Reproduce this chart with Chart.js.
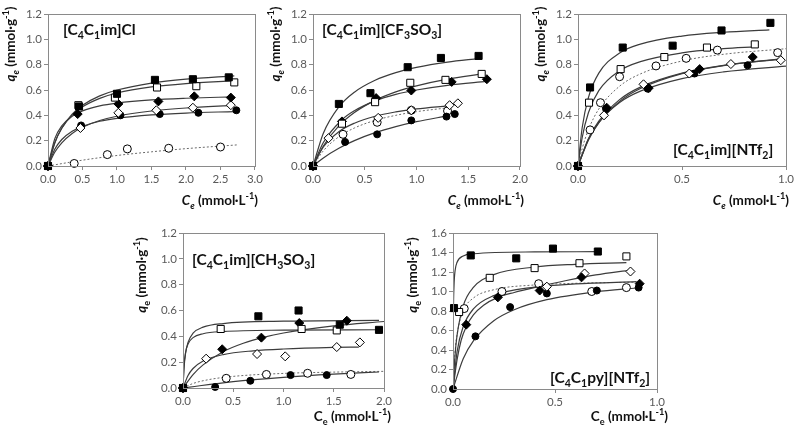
<!DOCTYPE html>
<html>
<head>
<meta charset="utf-8">
<script src="https://cdn.jsdelivr.net/npm/chart.js@4.4.1/dist/chart.umd.min.js"></script>
<style>
  body { margin: 0; background: #fff; width: 800px; height: 434px; position: relative; overflow: hidden; }
  canvas { position: absolute; }
</style>
</head>
<body>
<canvas id="p1" width="265" height="212" style="left:0;top:0"></canvas>
<canvas id="p2" width="265" height="212" style="left:265px;top:0"></canvas>
<canvas id="p3" width="270" height="212" style="left:530px;top:0"></canvas>
<canvas id="p4" width="265" height="219" style="left:130px;top:215px"></canvas>
<canvas id="p5" width="270" height="219" style="left:400px;top:215px"></canvas>
<script>
// ---- [C4C1im]Cl ----
const clSqFill = [[0,0],[0.45,0.47],[1.0,0.57],[1.55,0.68],[2.1,0.685],[2.62,0.70]];
const clSqOpen = [[0,0],[0.44,0.48],[0.97,0.54],[1.58,0.62],[2.15,0.63],[2.7,0.66]];
const clDiFill = [[0,0],[0.43,0.41],[1.02,0.49],[1.6,0.51],[2.12,0.55],[2.65,0.54]];
const clDiOpen = [[0,0],[0.47,0.30],[1.02,0.42],[1.57,0.44],[2.1,0.46],[2.65,0.48]];
const clCiFill = [[0,0],[0.48,0.32],[1.05,0.40],[1.62,0.41],[2.18,0.42],[2.73,0.44]];
const clCiOpen = [[0,0],[0.38,0.02],[0.86,0.09],[1.15,0.135],[1.75,0.14],[2.5,0.15]];
const clFitSqFill = [[0,0],[0.1,0.185],[0.2,0.30],[0.35,0.41],[0.5,0.48],[0.75,0.554],[1.0,0.60],[1.5,0.655],[2.0,0.686],[2.7,0.712]];
const clFitSqOpen = [[0,0],[0.1,0.186],[0.2,0.298],[0.35,0.402],[0.5,0.467],[0.75,0.534],[1.0,0.576],[1.5,0.624],[2.0,0.651],[2.7,0.674]];
const clFitDiFill = [[0,0],[0.1,0.218],[0.2,0.316],[0.35,0.393],[0.5,0.435],[0.75,0.475],[1.0,0.497],[1.5,0.522],[2.0,0.535],[2.7,0.546]];
const clFitDiOpen = [[0,0],[0.1,0.11],[0.2,0.183],[0.35,0.257],[0.5,0.306],[0.75,0.359],[1.0,0.393],[1.5,0.434],[2.0,0.458],[2.7,0.479]];
const clFitCiFill = [[0,0],[0.1,0.134],[0.2,0.209],[0.35,0.274],[0.5,0.313],[0.75,0.353],[1.0,0.376],[1.5,0.403],[2.0,0.418],[2.7,0.430]];
const clFitCiOpen = [[0,0],[0.5,0.046],[1.0,0.083],[1.5,0.112],[2.0,0.137],[2.75,0.167]];

// ---- [C4C1im][CF3SO3] ----
const cfSqFill = [[0,0],[0.25,0.49],[0.555,0.575],[0.915,0.78],[1.236,0.853],[1.6,0.869]];
const cfSqOpen = [[0,0],[0.28,0.334],[0.6,0.504],[0.94,0.657],[1.28,0.68],[1.63,0.727]];
const cfDiFill = [[0,0],[0.28,0.352],[0.61,0.536],[0.95,0.596],[1.34,0.664],[1.68,0.685]];
const cfDiOpen = [[0,0],[0.15,0.22],[0.63,0.38],[0.95,0.44],[1.32,0.48],[1.40,0.495]];
const cfCiFill = [[0,0],[0.31,0.19],[0.62,0.25],[0.95,0.36],[1.29,0.39],[1.37,0.41]];
const cfCiOpen = [[0,0],[0.29,0.25],[0.62,0.345],[0.95,0.44],[1.30,0.435]];
const cfFitSqFill = [[0,0],[0.1,0.259],[0.25,0.467],[0.4,0.583],[0.6,0.677],[0.8,0.737],[1.0,0.778],[1.3,0.82],[1.6,0.848]];
const cfFitSqOpen = [[0,0],[0.1,0.158],[0.25,0.317],[0.4,0.422],[0.6,0.518],[0.8,0.585],[1.0,0.633],[1.3,0.686],[1.63,0.727]];
const cfFitDiFill = [[0,0],[0.1,0.185],[0.28,0.365],[0.4,0.436],[0.6,0.514],[0.8,0.565],[1.0,0.60],[1.3,0.637],[1.68,0.668]];
const cfFitDiOpen = [[0,0],[0.1,0.15],[0.25,0.271],[0.4,0.338],[0.6,0.393],[0.8,0.427],[1.0,0.451],[1.3,0.475]];
const cfFitCiFill = [[0,0],[0.1,0.064],[0.25,0.14],[0.4,0.20],[0.6,0.263],[0.8,0.311],[1.0,0.35],[1.3,0.396]];
const cfFitCiOpen = [[0,0],[0.1,0.12],[0.25,0.231],[0.4,0.30],[0.6,0.36],[0.8,0.40],[1.0,0.429],[1.3,0.459]];

// ---- [C4C1im][NTf2] ----
const ntSqFill = [[0,0],[0.058,0.62],[0.215,0.935],[0.455,0.95],[0.69,1.07],[0.925,1.13]];
const ntSqOpen = [[0,0],[0.053,0.50],[0.205,0.765],[0.415,0.86],[0.62,0.935],[0.85,0.96]];
const ntDiFill = [[0,0],[0.138,0.46],[0.34,0.615],[0.585,0.765],[0.84,0.86]];
const ntDiOpen = [[0,0],[0.125,0.40],[0.315,0.645],[0.535,0.73],[0.735,0.805],[0.975,0.835]];
const ntCiFill = [[0,0],[0.135,0.45],[0.335,0.61],[0.56,0.73],[0.815,0.795]];
const ntCiOpen = [[0,0],[0.058,0.285],[0.108,0.50],[0.20,0.705],[0.375,0.79],[0.52,0.85],[0.67,0.915],[0.96,0.895]];
const ntFitSqFill = [[0,0],[0.02,0.302],[0.05,0.54],[0.1,0.733],[0.2,0.892],[0.3,0.962],[0.5,1.026],[0.7,1.056],[0.92,1.075]];
const ntFitSqOpen = [[0,0],[0.02,0.223],[0.05,0.42],[0.1,0.595],[0.2,0.752],[0.3,0.824],[0.5,0.893],[0.7,0.926],[0.85,0.941]];
const ntFitDiFill = [[0,0],[0.05,0.204],[0.1,0.34],[0.2,0.51],[0.3,0.612],[0.5,0.729],[0.7,0.793],[0.97,0.846]];
const ntFitDiOpen = [[0,0],[0.05,0.216],[0.1,0.355],[0.2,0.524],[0.3,0.623],[0.5,0.733],[0.7,0.794],[0.97,0.842]];
const ntFitCiFill = [[0,0],[0.05,0.212],[0.1,0.345],[0.2,0.502],[0.3,0.591],[0.5,0.69],[0.7,0.743],[1.0,0.789]];
const ntFitCiOpen = [[0,0],[0.02,0.137],[0.05,0.286],[0.1,0.45],[0.2,0.63],[0.3,0.727],[0.5,0.829],[0.7,0.882],[1.0,0.926]];

// ---- [C4C1im][CH3SO3] ----
const chSqFill = [[0,0],[0.75,0.555],[1.15,0.60],[1.56,0.49],[1.95,0.45]];
const chSqOpen = [[0,0],[0.375,0.457],[1.18,0.457],[1.53,0.446]];
const chDiFill = [[0,0],[0.39,0.30],[0.78,0.39],[1.157,0.503],[1.63,0.521]];
const chDiOpen = [[0,0],[0.23,0.227],[0.737,0.263],[1.017,0.245],[1.53,0.317],[1.76,0.353]];
const chCiFill = [[0,0],[0.32,0.008],[0.67,0.056],[1.07,0.10],[1.43,0.10]];
const chCiOpen = [[0,0],[0.43,0.075],[0.83,0.105],[1.24,0.114],[1.67,0.105]];
const chFitSqFill = [[0,0],[0.01,0.151],[0.025,0.265],[0.05,0.353],[0.1,0.424],[0.2,0.471],[0.4,0.499],[1.0,0.517],[1.95,0.523]];
const chFitSqOpen = [[0,0],[0.01,0.171],[0.025,0.273],[0.05,0.341],[0.1,0.39],[0.2,0.42],[0.4,0.437],[1.0,0.448],[1.95,0.451]];
const chFitDiFill = [[0,0],[0.1,0.104],[0.2,0.179],[0.4,0.281],[0.6,0.346],[0.8,0.392],[1.0,0.426],[1.5,0.481],[2.0,0.515]];
const chFitDiOpen = [[0,0],[0.05,0.097],[0.1,0.151],[0.2,0.209],[0.4,0.259],[0.7,0.288],[1.0,0.302],[1.5,0.314],[1.75,0.317]];
const chFitCiFill = [[0,0],[0.5,0.05],[1.0,0.083],[1.5,0.107],[1.95,0.124]];
const chFitCiOpen = [[0,0],[0.1,0.035],[0.25,0.064],[0.5,0.09],[1.0,0.113],[1.5,0.123],[2.0,0.129]];

// ---- [C4C1py][NTf2] ----
const pySqFill = [[0.005,0.83],[0.087,1.37],[0.31,1.34],[0.49,1.44],[0.71,1.41]];
const pySqOpen = [[0.03,0.79],[0.18,1.14],[0.40,1.24],[0.62,1.29],[0.85,1.36]];
const pyDiFill = [[0.065,0.66],[0.22,0.94],[0.425,1.01],[0.63,1.145],[0.915,1.08]];
const pyDiOpen = [[0.46,1.05],[0.645,1.185],[0.87,1.205]];
const pyCiFill = [[0,0],[0.11,0.54],[0.28,0.84],[0.46,0.98],[0.705,1.01],[0.91,1.04]];
const pyCiOpen = [[0.055,0.825],[0.24,1.0],[0.42,1.08],[0.68,1.0],[0.85,1.04]];
const pyFitSqFill = [[0,0],[0.002,0.77],[0.005,1.06],[0.01,1.21],[0.02,1.30],[0.05,1.365],[0.1,1.387],[0.4,1.406],[0.7,1.408]];
const pyFitSqOpen = [[0,0],[0.01,0.347],[0.02,0.552],[0.05,0.853],[0.1,1.042],[0.2,1.173],[0.4,1.251],[0.6,1.279],[0.85,1.296]];
const pyFitDiOpen = [[0,0],[0.02,0.30],[0.04,0.50],[0.065,0.64],[0.1,0.76],[0.15,0.86],[0.22,0.94],[0.3,0.99],[0.42,1.05],[0.55,1.11],[0.7,1.17],[0.87,1.22]];
const pyFitDiFill = [[0,0],[0.02,0.383],[0.05,0.639],[0.1,0.821],[0.2,0.958],[0.4,1.045],[0.6,1.078],[0.9,1.101]];
const pyFitCiFill = [[0,0],[0.05,0.311],[0.1,0.494],[0.2,0.70],[0.3,0.813],[0.46,0.916],[0.7,0.997],[0.9,1.036]];
const pyFitCiOpen = [[0,0],[0.01,0.373],[0.02,0.56],[0.05,0.80],[0.1,0.933],[0.2,1.018],[0.4,1.067],[0.6,1.084],[0.9,1.096]];

const MARKS = {
  sqFill: { pointStyle: 'rect', radius: 5, fill: '#000' },
  sqOpen: { pointStyle: 'rect', radius: 5, fill: '#fff' },
  diFill: { pointStyle: 'rectRot', radius: 4.5, fill: '#000' },
  diOpen: { pointStyle: 'rectRot', radius: 4.5, fill: '#fff' },
  ciFill: { pointStyle: 'circle', radius: 3.5, fill: '#000' },
  ciOpen: { pointStyle: 'circle', radius: 4, fill: '#fff' }
};

const xy = pairs => pairs.map(([x, y]) => ({ x, y }));

function marks(pairs, kind) {
  const m = MARKS[kind];
  return {
    type: 'scatter', data: xy(pairs), order: 1, clip: false, showLine: false,
    pointStyle: m.pointStyle, pointRadius: m.radius, pointHoverRadius: m.radius,
    pointBackgroundColor: m.fill, pointBorderColor: '#000', pointBorderWidth: 1
  };
}

function fit(pairs, dotted) {
  return {
    type: 'line', data: xy(pairs), order: 2, pointRadius: 0, fill: false,
    borderColor: dotted ? '#6a6a6a' : '#3c3c3c', borderWidth: dotted ? 1 : 1.2,
    borderDash: dotted ? [2, 2] : [], cubicInterpolationMode: 'monotone'
  };
}

const sub = t => ({ t, sub: true });
const sup = t => ({ t, sup: true });

function drawRich(ctx, it) {
  const size = it.size;
  const fontOf = s => (s.i ? 'italic ' : '') + 'bold ' + ((s.sub || s.sup) ? size * 0.68 : size) + 'px Lato';
  ctx.save();
  ctx.translate(it.x, it.y);
  if (it.rot) ctx.rotate(it.rot);
  let total = 0;
  it.segs.forEach(s => { ctx.font = fontOf(s); total += ctx.measureText(s.t).width; });
  let x = it.align === 'right' ? -total : it.align === 'center' ? -total / 2 : 0;
  ctx.fillStyle = '#111';
  ctx.textBaseline = 'alphabetic';
  it.segs.forEach(s => {
    ctx.font = fontOf(s);
    const dy = s.sub ? size * 0.28 : s.sup ? -size * 0.42 : 0;
    ctx.fillText(s.t, x, dy);
    x += ctx.measureText(s.t).width;
  });
  ctx.restore();
}

function yTitle(x, y, italicE) {
  return { x, y, rot: -Math.PI / 2, align: 'center', size: 13.5,
    segs: [{ t: 'q', i: true }, { t: 'e', i: italicE, sub: true }, { t: ' (mmol·g' }, sup('-1'), { t: ')' }] };
}
function xTitle(x, y, italicC) {
  return { x, y, align: 'right', size: 13.5,
    segs: [{ t: 'C', i: italicC }, { t: 'e', i: italicC, sub: true }, { t: ' (mmol·L' }, sup('-1'), { t: ')' }] };
}

function panel(id, p) {
  const canvas = document.getElementById(id);
  const W = canvas.width, H = canvas.height;
  const tickFont = { family: 'Lato', size: 11.5 };
  const axisCol = '#8a8a8a';
  const frame = {
    id: 'frame' + id,
    afterDatasetsDraw(chart) {
      const a = chart.chartArea, ctx = chart.ctx;
      ctx.save();
      ctx.strokeStyle = axisCol; ctx.lineWidth = 1;
      ctx.strokeRect(Math.round(a.left) + 0.5, Math.round(a.top) + 0.5,
        Math.round(a.right - a.left), Math.round(a.bottom - a.top));
      ctx.restore();
    },
    afterDraw(chart) { p.texts.forEach(t => drawRich(chart.ctx, t)); }
  };
  new Chart(canvas, {
    data: { datasets: p.sets },
    options: {
      responsive: false, animation: false, devicePixelRatio: 1,
      layout: { padding: { left: 0, top: p.top, right: W - p.right, bottom: 0 } },
      plugins: { legend: { display: false }, tooltip: { enabled: false } },
      scales: {
        x: {
          type: 'linear', min: 0, max: p.xMax,
          afterFit: s => { s.height = H - p.bottom; },
          ticks: { stepSize: p.xStep, color: '#595959', font: tickFont, padding: 2,
                   callback: v => v.toFixed(1), maxRotation: 0 },
          grid: { drawOnChartArea: false, tickLength: 4, color: axisCol },
          border: { color: axisCol }
        },
        y: {
          type: 'linear', min: 0, max: p.yMax,
          afterFit: s => { s.width = p.left; },
          ticks: { stepSize: 0.2, color: '#595959', font: tickFont, padding: 2,
                   callback: v => v.toFixed(1) },
          grid: { drawOnChartArea: false, tickLength: 4, color: axisCol },
          border: { color: axisCol }
        }
      }
    },
    plugins: [frame]
  });
}

panel('p1', {
  left: 48, right: 256, top: 14, bottom: 166, xMax: 3.0, xStep: 0.5, yMax: 1.2,
  sets: [
    marks(clSqFill, 'sqFill'), marks(clSqOpen, 'sqOpen'), marks(clDiFill, 'diFill'),
    marks(clDiOpen, 'diOpen'), marks(clCiFill, 'ciFill'), marks(clCiOpen, 'ciOpen'),
    fit(clFitSqFill), fit(clFitSqOpen), fit(clFitDiFill), fit(clFitDiOpen), fit(clFitCiFill), fit(clFitCiOpen, true)
  ],
  texts: [
    yTitle(15, 44, true), xTitle(258, 205, true),
    { x: 63, y: 35, size: 15.5, segs: [{ t: '[C' }, sub('4'), { t: 'C' }, sub('1'), { t: 'im]Cl' }] }
  ]
});

panel('p2', {
  left: 48, right: 256, top: 14, bottom: 166, xMax: 2.0, xStep: 0.5, yMax: 1.2,
  sets: [
    marks(cfSqFill, 'sqFill'), marks(cfSqOpen, 'sqOpen'), marks(cfDiFill, 'diFill'),
    marks(cfDiOpen, 'diOpen'), marks(cfCiFill, 'ciFill'), marks(cfCiOpen, 'ciOpen'),
    fit(cfFitSqFill), fit(cfFitSqOpen), fit(cfFitDiFill), fit(cfFitDiOpen), fit(cfFitCiFill), fit(cfFitCiOpen, true)
  ],
  texts: [
    yTitle(15, 44, true), xTitle(259, 205, true),
    { x: 57, y: 35, size: 15.5, segs: [{ t: '[C' }, sub('4'), { t: 'C' }, sub('1'), { t: 'im][CF' }, sub('3'), { t: 'SO' }, sub('3'), { t: ']' }] }
  ]
});

panel('p3', {
  left: 48, right: 256, top: 14, bottom: 166, xMax: 1.0, xStep: 0.5, yMax: 1.2,
  sets: [
    marks(ntSqFill, 'sqFill'), marks(ntSqOpen, 'sqOpen'), marks(ntDiFill, 'diFill'),
    marks(ntDiOpen, 'diOpen'), marks(ntCiFill, 'ciFill'), marks(ntCiOpen, 'ciOpen'),
    fit(ntFitSqFill), fit(ntFitSqOpen), fit(ntFitDiFill), fit(ntFitDiOpen), fit(ntFitCiFill), fit(ntFitCiOpen, true)
  ],
  texts: [
    yTitle(15, 44, true), xTitle(259, 205, true),
    { x: 143, y: 155, size: 15.5, segs: [{ t: '[C' }, sub('4'), { t: 'C' }, sub('1'), { t: 'im][NTf' }, sub('2'), { t: ']' }] }
  ]
});

panel('p4', {
  left: 53, right: 254, top: 18, bottom: 173, xMax: 2.0, xStep: 0.5, yMax: 1.2,
  sets: [
    marks(chSqFill, 'sqFill'), marks(chSqOpen, 'sqOpen'), marks(chDiFill, 'diFill'),
    marks(chDiOpen, 'diOpen'), marks(chCiFill, 'ciFill'), marks(chCiOpen, 'ciOpen'),
    fit(chFitSqFill), fit(chFitSqOpen), fit(chFitDiFill), fit(chFitDiOpen), fit(chFitCiFill), fit(chFitCiOpen, true)
  ],
  texts: [
    yTitle(16, 60, false), xTitle(261, 206, false),
    { x: 62, y: 50, size: 15.5, segs: [{ t: '[C' }, sub('4'), { t: 'C' }, sub('1'), { t: 'im][CH' }, sub('3'), { t: 'SO' }, sub('3'), { t: ']' }] }
  ]
});

panel('p5', {
  left: 53, right: 257, top: 18, bottom: 174, xMax: 1.0, xStep: 0.5, yMax: 1.6,
  sets: [
    marks(pySqFill, 'sqFill'), marks(pySqOpen, 'sqOpen'), marks(pyDiFill, 'diFill'),
    marks(pyDiOpen, 'diOpen'), marks(pyCiFill, 'ciFill'), marks(pyCiOpen, 'ciOpen'),
    fit(pyFitSqFill), fit(pyFitSqOpen), fit(pyFitDiFill), fit(pyFitDiOpen), fit(pyFitCiFill), fit(pyFitCiOpen, true)
  ],
  texts: [
    yTitle(17, 60, false), xTitle(268, 206, false),
    { x: 150, y: 168, size: 15.5, segs: [{ t: '[C' }, sub('4'), { t: 'C' }, sub('1'), { t: 'py][NTf' }, sub('2'), { t: ']' }] }
  ]
});
</script>
</body>
</html>
